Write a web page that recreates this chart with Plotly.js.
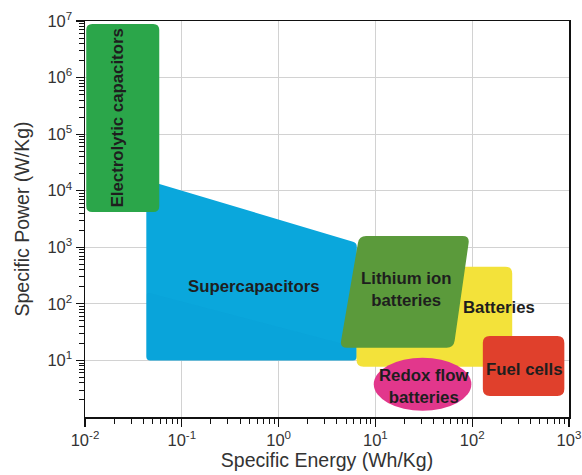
<!DOCTYPE html>
<html>
<head>
<meta charset="utf-8">
<script src="https://cdn.plot.ly/plotly-3.0.1.min.js"></script>
<style>html,body{margin:0;padding:0;background:#fff;}#chart{width:582px;height:475px;}</style>
</head>
<body>
<div id="chart"></div>
<script>
// ---- Data (specific energy Wh/kg, specific power W/kg) ----
const regionNames = ["Supercapacitors", "Batteries", "Lithium ion batteries", "Fuel cells", "Electrolytic capacitors"];
const superX = [0.043, 6.43, 6.43, 0.043];
const superY = [15450, 1190, 10, 10];
const superInnerX = [0.043, 6.43, 6.43, 0.043];
const superInnerY = [160, 17, 10, 10];
const batteriesX = [6.38, 259, 259, 6.38];
const batteriesY = [454, 454, 7.74, 7.74];
const lithiumX = [6.79, 94, 64.3, 4.30];
const lithiumY = [1581, 1581, 16.8, 16.8];
const fuelX = [128.8, 895, 895, 128.8];
const fuelY = [27.0, 27.0, 2.35, 2.35];
const electrolyticX = [0.0103, 0.0585, 0.0585, 0.0103];
const electrolyticY = [8.85e6, 8.85e6, 4210, 4210];
const redoxX = [9.62, 98];
const redoxY = [1.29, 11.2];
const xTickVals = [0.01, 0.1, 1, 10, 100, 1000];
const xTickText = ["10<sup>-2</sup>", "10<sup>-1</sup>", "10<sup>0</sup>", "10<sup>1</sup>", "10<sup>2</sup>", "10<sup>3</sup>"];
const yTickVals = [10, 100, 1e3, 1e4, 1e5, 1e6, 1e7];
const yTickText = ["10<sup>1</sup>", "10<sup>2</sup>", "10<sup>3</sup>", "10<sup>4</sup>", "10<sup>5</sup>", "10<sup>6</sup>", "10<sup>7</sup>"];
const labelText = ["Electrolytic capacitors", "Supercapacitors", "Lithium ion<br>batteries", "Batteries", "Fuel cells", "Redox flow<br>batteries"];
const labelX = [0.0221, 0.557, 20.6, 187, 339, 31.5];
const labelY = [1.93e5, 199, 176, 84.5, 7.05, 3.53];
const labelAngle = [-90, 0, 0, 0, 0, 0];

// ---- helpers: rounded polygon path in data coords (log axes) ----
const SX = 97, SY = 56.57; // px per decade approx
function roundedPath(xs, ys, r) {
  const P = xs.map((x, i) => [Math.log10(x) * SX, Math.log10(ys[i]) * SY]);
  const n = P.length;
  const toD = p => (Math.pow(10, p[0] / SX)) + ',' + (Math.pow(10, p[1] / SY));
  let d = '';
  for (let i = 0; i < n; i++) {
    const c = P[i], a = P[(i - 1 + n) % n], b = P[(i + 1) % n];
    const la = Math.hypot(a[0] - c[0], a[1] - c[1]);
    const lb = Math.hypot(b[0] - c[0], b[1] - c[1]);
    const ra = Math.min(r, la / 2), rb = Math.min(r, lb / 2);
    const p1 = [c[0] + (a[0] - c[0]) * ra / la, c[1] + (a[1] - c[1]) * ra / la];
    const p2 = [c[0] + (b[0] - c[0]) * rb / lb, c[1] + (b[1] - c[1]) * rb / lb];
    d += (i === 0 ? 'M' : 'L') + toD(p1) + ' Q' + toD(c) + ' ' + toD(p2) + ' ';
  }
  return d + 'Z';
}
function poly(xs, ys, color, r) {
  return {type: 'path', xref: 'x', yref: 'y', path: roundedPath(xs, ys, r),
          fillcolor: color, line: {width: 0}, layer: 'above'};
}

const shapes = [
  poly(superX, superY, '#0aa7dc', 4),
  poly(superInnerX, superInnerY, 'rgba(0,120,190,0.06)', 4),
  poly(batteriesX, batteriesY, '#f3e23a', 7),
  poly(lithiumX, lithiumY, '#5b9a3b', 7),
  {type: 'circle', xref: 'x', yref: 'y', x0: redoxX[0], x1: redoxX[1], y0: redoxY[0], y1: redoxY[1],
   fillcolor: '#e2378c', line: {width: 0}, layer: 'above'},
  poly(fuelX, fuelY, '#e0402c', 7),
  poly(electrolyticX, electrolyticY, '#2ba64a', 6)
];

const annotations = labelText.map((t, i) => ({
  x: Math.log10(labelX[i]), y: Math.log10(labelY[i]), xref: 'x', yref: 'y',
  text: '<b>' + t + '</b>', showarrow: false, textangle: labelAngle[i],
  font: {family: 'Liberation Sans, Arial, sans-serif', size: 16.8, color: '#1e1e1e'}
}));

function minorVals(lo, hi) {
  const v = [];
  for (let e = lo; e < hi; e++) for (let k = 2; k <= 9; k++) v.push(k * Math.pow(10, e));
  return v;
}

const layout = {
  width: 582, height: 475,
  margin: {l: 85, r: 12.5, t: 21, b: 58},
  paper_bgcolor: '#fff', plot_bgcolor: '#fff',
  showlegend: false,
  font: {family: 'Liberation Sans, Arial, sans-serif', color: '#333'},
  xaxis: {
    type: 'log', range: [-2, 3],
    tickmode: 'array', tickvals: xTickVals, ticktext: xTickText,
    ticks: 'outside', ticklen: 8, tickwidth: 1.2, tickcolor: '#111',
    minor: {ticks: 'outside', ticklen: 5, tickwidth: 1, tickcolor: '#111', tickvals: minorVals(-2, 3), showgrid: false},
    showline: true, linecolor: '#111', linewidth: 1.5, mirror: true,
    showgrid: true, gridcolor: '#d2d2d2', gridwidth: 1, zeroline: false,
    tickfont: {size: 16.5, color: '#333'},
    title: {text: 'Specific Energy (Wh/Kg)', font: {size: 19.5, color: '#333'}, standoff: 3}
  },
  yaxis: {
    type: 'log', range: [0, 7],
    tickmode: 'array', tickvals: yTickVals, ticktext: yTickText,
    ticks: 'outside', ticklen: 8, tickwidth: 1.2, tickcolor: '#111',
    minor: {ticks: 'outside', ticklen: 5, tickwidth: 1, tickcolor: '#111', tickvals: minorVals(0, 7), showgrid: false},
    showline: true, linecolor: '#111', linewidth: 1.5, mirror: true,
    showgrid: true, gridcolor: '#d2d2d2', gridwidth: 1, zeroline: false,
    tickfont: {size: 16.5, color: '#333'},
    title: {text: 'Specific Power (W/Kg)', font: {size: 19.5, color: '#333'}, standoff: 12}
  },
  shapes: shapes,
  annotations: annotations
};

// invisible trace to establish the axes
const data = [{x: xTickVals, y: [10, 100, 1e3, 1e4, 1e5, 1e6], type: 'scatter', mode: 'markers',
  marker: {opacity: 0}, hoverinfo: 'skip', name: regionNames.join(', ')}];

Plotly.newPlot('chart', data, layout, {displayModeBar: false, staticPlot: true});
</script>
</body>
</html>
